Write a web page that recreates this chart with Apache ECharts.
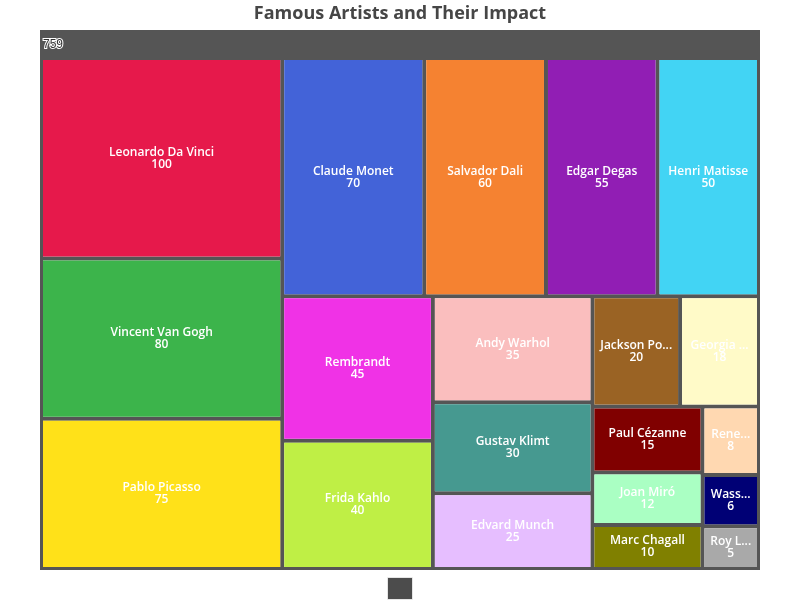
<!DOCTYPE html>
<html>
  <head>
    <meta charset="utf-8" />
    <script src="https://cdn.jsdelivr.net/npm/echarts/dist/echarts.min.js"></script>
  </head>
  <body style="margin:0">
    <div id="chart" style="width: 800px; height: 600px;"></div>
    <script>
        // Data
        var artists = ['Leonardo Da Vinci', 'Vincent Van Gogh', 'Pablo Picasso', 'Claude Monet', 'Salvador Dali',
          'Edgar Degas', 'Henri Matisse', 'Rembrandt', 'Frida Kahlo', 'Andy Warhol', 'Gustav Klimt',
          'Edvard Munch', 'Jackson Pollock', "Georgia O'Keeffe", 'Paul Cézanne', 'Joan Miró',
          'Marc Chagall', 'Rene Magritte', 'Wassily Kandinsky', 'Roy Lichtenstein'];
        var impact = [100, 80, 75, 70, 60, 55, 50, 45, 40, 35, 30, 25, 20, 18, 15, 12, 10, 8, 6, 5];
        var colors = ['#e6194b', '#3cb44b', '#ffe119', '#4363d8', '#f58231', '#911eb4', '#42d4f4',
          '#f032e6', '#bfef45', '#fabebe', '#469990', '#e6beff', '#9a6324', '#fffac8', '#800000',
          '#aaffc3', '#808000', '#ffd8b1', '#000075', '#a9a9a9'];

        var chart = echarts.init(document.getElementById('chart'));

        var option = {
            title: {
                text: 'Famous Artists and Their Impact',
                left: 'center',
                top: 0,
                textStyle: { fontSize: 18, fontWeight: 'bold', color: '#464646', fontFamily: 'Open Sans' }
            },
            series: [{
                type: 'treemap',
                left: 40,
                right: 40,
                top: 30,
                bottom: 30,
                roam: false,
                nodeClick: false,
                breadcrumb: {
                    show: true, left: 'center', bottom: 0, height: 22,
                    itemStyle: { color: 'rgba(0,0,0,0.7)', borderColor: 'rgba(255,255,255,0.7)', borderWidth: 1 }
                },
                label: {
                    show: true,
                    formatter: '{b}\n{c}',
                    fontFamily: 'Open Sans',
                    fontWeight: 600,
                    fontSize: 12,
                    lineHeight: 12
                },
                upperLabel: {
                    show: true,
                    height: 30,
                    padding: [6, 0, 0, 0],
                    formatter: '{c}'
                },
                levels: [
                    { itemStyle: { borderColor: '#555', borderWidth: 3, gapWidth: 4 } },
                    { itemStyle: { borderWidth: 0 } }
                ],
                data: artists.map(function (name, i) {
                    return { name: name, value: impact[i], itemStyle: { color: colors[i] } };
                })
            }]
        };

        chart.setOption(option);
      </script>
  </body>
</html>
